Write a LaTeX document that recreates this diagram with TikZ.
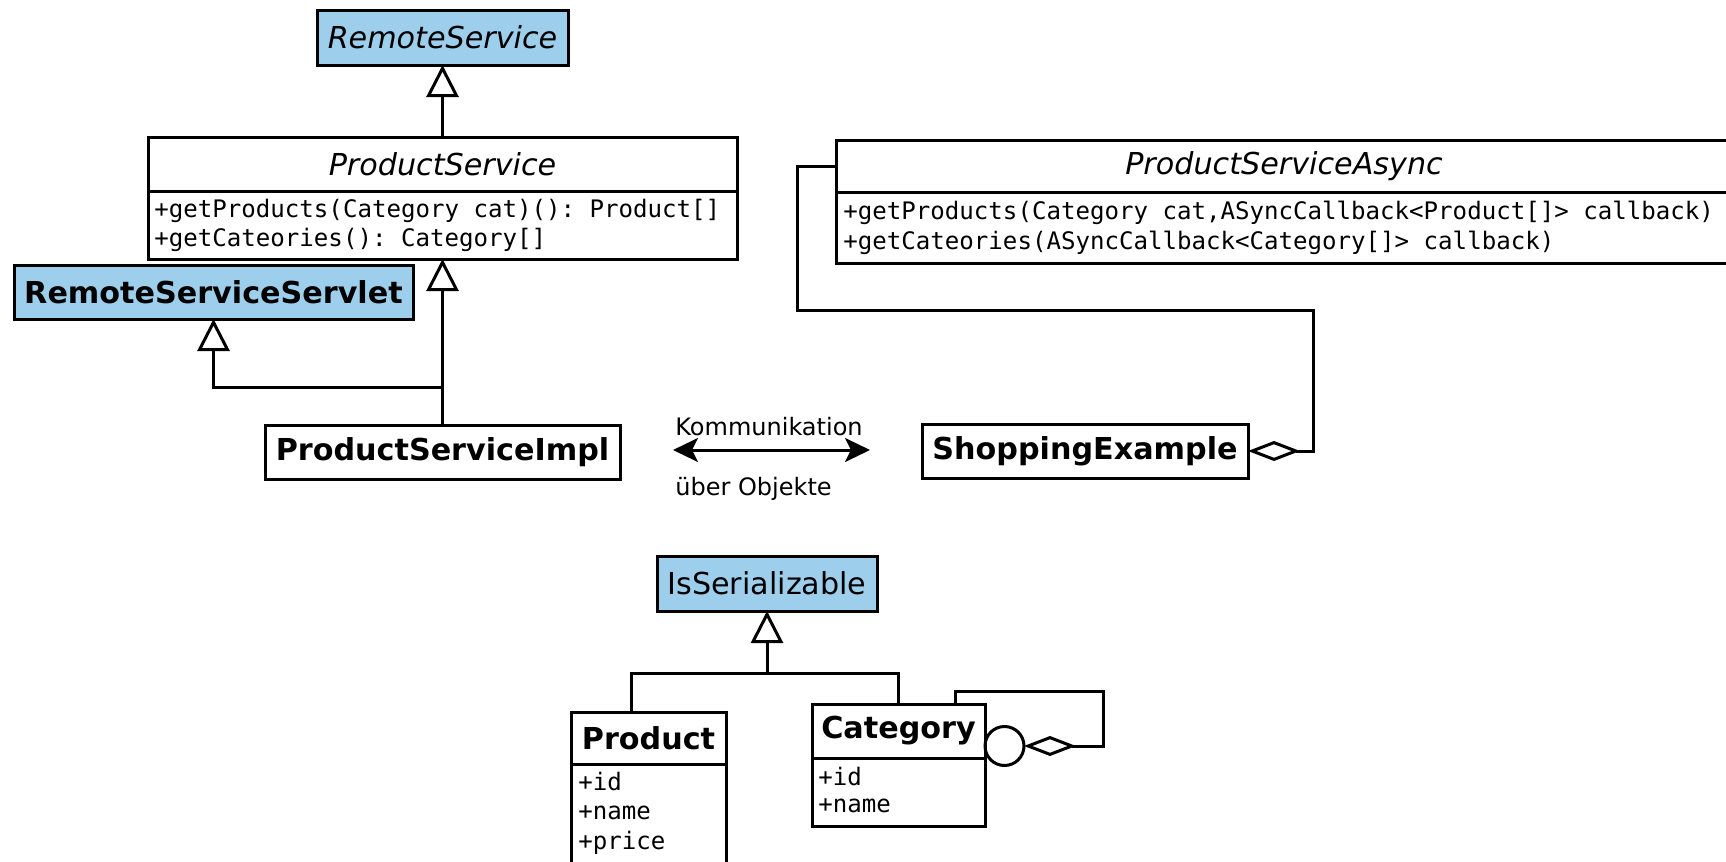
\documentclass[tikz,border=0pt]{standalone}
\usepackage{fontspec}
\setmainfont{DejaVu Sans}
\setmonofont{DejaVu Sans Mono}
\usetikzlibrary{arrows.meta}
\definecolor{umlblue}{RGB}{157,207,237}
\begin{document}
\begin{tikzpicture}[x=0.5pt,y=-0.5pt,
  box/.style={draw=black, line width=1.5pt, inner sep=0pt, outer sep=0pt},
  iface/.style={box, fill=umlblue},
  cname/.style={font=\fontsize{15.1}{18}\selectfont},
  cbold/.style={font=\fontsize{15.1}{18}\selectfont\bfseries},
  cital/.style={font=\fontsize{15.1}{18}\selectfont\itshape},
  member/.style={font=\fontsize{12.05}{15}\selectfont\ttfamily, anchor=west, inner sep=0pt},
  note/.style={font=\fontsize{12}{14}\selectfont, anchor=base west, inner sep=0pt},
  conn/.style={line width=1.5pt, draw=black},
  gen/.style={conn, -{Triangle[length=16pt, width=16pt, fill=white]}},
  agg/.style={conn, -{Diamond[length=26pt, width=10pt, fill=white]}},
  both/.style={conn, {Stealth[length=12.5pt, width=12pt, inset=3pt]}-{Stealth[length=12.5pt, width=12pt, inset=3pt]}}
]
\fill[white] (0,0) rectangle (1726,862);
\useasboundingbox (0,0) rectangle (1726,862);

% top hierarchy
\node[iface, cital, minimum width=125.5pt, minimum height=27.5pt] (remote) at (442.5,37.5) {RemoteService};
\node[box, cital, minimum width=294.5pt, minimum height=27pt] (psT) at (442.5,164) {ProductService};
\node[box, minimum width=294.5pt, minimum height=34pt] (psM) at (442.5,225) {};
\node[member] (psM1) at (154,211) {+getProducts(Category cat)(): Product[]};
\node[member] (psM2) at (154,240) {+getCateories(): Category[]};
\node[iface, cbold, minimum width=199.5pt, minimum height=27pt] (servlet) at (213.5,292) {RemoteServiceServlet};
\node[box, cbold, minimum width=177.5pt, minimum height=27pt] (impl) at (442.5,452) {ProductServiceImpl};

% async side
\node[box, cital, minimum width=448pt, minimum height=26pt] (asyncT) at (1284,166) {ProductServiceAsync};
\node[box, minimum width=448pt, minimum height=35.5pt] (asyncM) at (1284,227.5) {};
\node[member] (asM1) at (843,213) {+getProducts(Category cat,ASyncCallback<Product[]> callback)};
\node[member] (asM2) at (843,243) {+getCateories(ASyncCallback<Category[]> callback)};
\node[box, cbold, minimum width=163pt, minimum height=27pt] (shop) at (1085,451) {ShoppingExample};

% communication
\coordinate (k1) at (673,450);
\coordinate (k2) at (870,450);
\draw[both] (k1) -- (k2);
\node[note] (komm) at (675,435) {Kommunikation};
\node[note] (ueber) at (675,495) {über Objekte};

% serializable part
\node[iface, cname, minimum width=110pt, minimum height=27.5pt] (isser) at (767,583.5) {IsSerializable};
\node[box, cbold, minimum width=77.5pt, minimum height=26pt] (prodT) at (648.5,738) {Product};
\node[box, minimum width=77.5pt, minimum height=55.5pt] (prodM) at (648.5,819.5) {};
\node[member] (pa1) at (578,782) {+id};
\node[member] (pa2) at (578,813) {+name};
\node[member] (pa3) at (578,843) {+price};
\node[box, cbold, minimum width=86.5pt, minimum height=27pt] (catT) at (898.5,731) {Category};
\node[box, minimum width=86.5pt, minimum height=34pt] (catM) at (898.5,792) {};
\node[member] (ca1) at (818,777) {+id};
\node[member] (ca2) at (818,806) {+name};
\node[circle, draw=black, line width=1.5pt, minimum size=19.5pt, inner sep=0pt, outer sep=0pt] (catcirc) at (1004.5,746) {};

% connectors
\draw[gen] (psT.north) -- (remote.south);
\draw[gen] (impl.north) -- (psM.south);
\coordinate (j1) at (442.5,387);
\draw[gen] (impl.north) -- (j1) -| (servlet.south);

\coordinate (a1) at (797,166);
\coordinate (a2) at (797,310);
\coordinate (a3) at (1313,310);
\coordinate (a4) at (1313,451);
\draw[agg] (asyncT.west) -- (a1) -- (a2) -- (a3) -- (a4) -- (shop.east);

\coordinate (pj) at (631,712);
\coordinate (pj2) at (631,673);
\coordinate (sj) at (767,673);
\draw[gen] (pj) -- (pj2) -- (sj) -- (isser.south);
\draw[conn] (catT.north) |- (sj);

\coordinate (l1) at (955,704);
\coordinate (l2) at (955,691);
\coordinate (l3) at (1103,691);
\coordinate (l4) at (1103,746);
\draw[agg] (l1) -- (l2) -- (l3) -- (l4) -- (catcirc.east);
\end{tikzpicture}
\end{document}
